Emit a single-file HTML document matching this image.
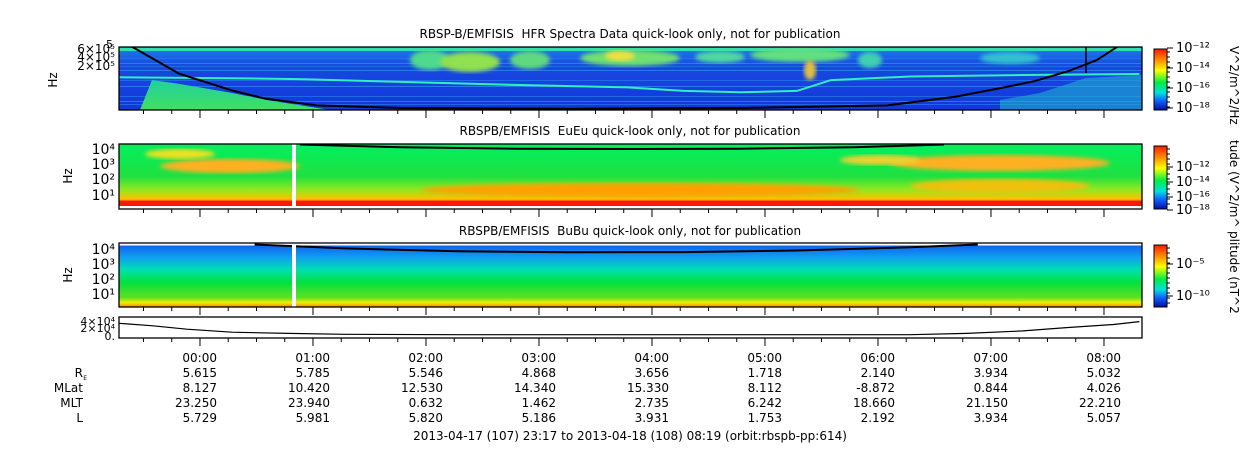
<!DOCTYPE html>
<html><head><meta charset="utf-8">
<style>
html,body{margin:0;padding:0;background:#fff;}
svg{display:block;font-family:"DejaVu Sans","Liberation Sans",sans-serif;}
text{fill:#000;font-size:12px;white-space:pre;}
</style></head>
<body>
<svg id="chart" width="1250" height="449" viewBox="0 0 1250 449" xmlns="http://www.w3.org/2000/svg">
<defs>
<linearGradient id="cbar" x1="0" y1="0" x2="0" y2="1">
<stop offset="0" stop-color="#ff1a00"/><stop offset="0.2" stop-color="#ff9900"/><stop offset="0.35" stop-color="#ffff00"/>
<stop offset="0.55" stop-color="#00ee44"/><stop offset="0.72" stop-color="#00e0e0"/><stop offset="0.85" stop-color="#1060ff"/><stop offset="1" stop-color="#0010a0"/>
</linearGradient>
<linearGradient id="p1bg" x1="0" y1="0" x2="0" y2="1">
<stop offset="0" stop-color="#20c0e0"/><stop offset="0.08" stop-color="#1a70e8"/><stop offset="0.3" stop-color="#1848e0"/><stop offset="1" stop-color="#1238d8"/>
</linearGradient>
<linearGradient id="p2bg" x1="0" y1="0" x2="0" y2="1">
<stop offset="0" stop-color="#00f060"/><stop offset="0.5" stop-color="#20e040"/><stop offset="0.7" stop-color="#90e820"/><stop offset="0.85" stop-color="#ffc000"/><stop offset="0.88" stop-color="#ff3000"/><stop offset="1" stop-color="#ff1000"/>
</linearGradient>
<linearGradient id="p3bg" x1="0" y1="0" x2="0" y2="1">
<stop offset="0" stop-color="#1060f0"/><stop offset="0.2" stop-color="#10a0f0"/><stop offset="0.4" stop-color="#00e0b0"/><stop offset="0.6" stop-color="#00e040"/><stop offset="0.85" stop-color="#60e020"/><stop offset="0.93" stop-color="#f0f000"/><stop offset="1" stop-color="#ff8000"/>
</linearGradient>
<linearGradient id="tri" x1="0" y1="0" x2="0" y2="1">
<stop offset="0" stop-color="#20d0a0"/><stop offset="1" stop-color="#40e060"/>
</linearGradient>
<filter id="blur"><feGaussianBlur stdDeviation="2"/></filter>
</defs>
<g id="panels"></g>
</svg>
<script>
const NS='http://www.w3.org/2000/svg';
const svg=document.getElementById('chart');
const root=document.getElementById('panels');
// ---- data ----
const hourTicks=['00:00','01:00','02:00','03:00','04:00','05:00','06:00','07:00','08:00'];
const rowRE=['5.615','5.785','5.546','4.868','3.656','1.718','2.140','3.934','5.032'];
const rowMLat=['8.127','10.420','12.530','14.340','15.330','8.112','-8.872','0.844','4.026'];
const rowMLT=['23.250','23.940','0.632','1.462','2.735','6.242','18.660','21.150','22.210'];
const rowL=['5.729','5.981','5.820','5.186','3.931','1.753','2.192','3.934','5.057'];
// hours since 23:17
const fceT=[0.1,0.53,1.0,1.3,1.75,2.5,4.0,5.5,6.8,7.4,7.8,8.1,8.4,8.65,8.85];
const fceHz=[770000,110000,34000,19000,12000,10000,9500,10000,12000,22000,40000,65000,130000,280000,770000];
const p2T=[1.6,2.5,3.5,4.5,5.5,6.5,7.3];
const p2Hz=[20000,13000,10500,10000,10500,13000,20000];
const p3T=[1.2,2.0,3.0,4.0,5.0,6.0,7.0,7.6];
const p3Hz=[20000,11000,7000,6000,6200,8000,13000,20000];
const p4T=[0,0.3,0.6,1.0,1.5,2.0,3.0,4.0,5.0,6.0,7.0,7.5,8.0,8.4,8.8,9.03];
const p4V=[30000,24000,16000,9000,6000,4000,3000,3000,3000,3000,3000,6000,12000,20000,27000,34000];
const cyanT=[0,1.0,1.6,2.5,3.5,4.5,5.0,5.5,6.0,6.3,7.0,8.0,9.03];
const cyanHz=[85000,80000,75000,62000,50000,42000,33000,30000,33000,70000,90000,100000,107000];
// ---- scales ----
const X0=119,X1=1142,HPX=113;
const xT=t=>X0+t*HPX;
const y1=f=>75-(Math.log10(f)-5)*33;
const y2=f=>149-(Math.log10(f)-4)*15;
const y3=f=>249-(Math.log10(f)-4)*15;
const y4=v=>336-v/40000*17;
function el(tag,attrs,parent){const e=document.createElementNS(NS,tag);for(const k in attrs)e.setAttribute(k,attrs[k]);(parent||root).appendChild(e);return e;}
function txt(x,y,s,anchor,size,parent){const e=el('text',{x:x,y:y,'text-anchor':anchor||'start'},parent);if(size)e.style.fontSize=size+'px';e.textContent=s;return e;}
function pathFrom(T,V,ys){return T.map((t,i)=>(i?'L':'M')+xT(t).toFixed(1)+','+ys(V[i]).toFixed(1)).join(' ');}

// panel 1
const g1=el('g',{});
el('rect',{x:X0,y:47,width:X1-X0,height:63,fill:'url(#p1bg)'},g1);
[58,63,66,70,80,86,96,101,104].forEach((y,i)=>el('rect',{x:X0,y:y,width:X1-X0,height:1,fill:i%2?'#3090f0':'#2a78ea',opacity:0.7},g1));
el('rect',{x:X0,y:48,width:X1-X0,height:3,fill:'#30e0b0'},g1);
const blobs=[[430,60,20,10,'#50d890'],[470,62,30,10,'#90e050'],[530,60,20,9,'#60d880'],[630,58,50,8,'#70e070'],[620,56,15,5,'#f0e040'],[720,57,25,6,'#50d8a0'],[800,55,50,7,'#60e080'],[810,70,6,10,'#e0c040'],[870,60,12,8,'#40d0b0'],[1010,58,30,6,'#30c0d0']];
blobs.forEach(b=>el('ellipse',{cx:b[0],cy:b[1],rx:b[2],ry:b[3],fill:b[4],filter:'url(#blur)'},g1));
el('polygon',{points:'140,110 152,80 180,84 232,93 267,100 330,110',fill:'url(#tri)'},g1);
el('polygon',{points:'1000,110 1000,100 1040,93 1086,78 1142,75 1142,110',fill:'#20b0d0',opacity:0.6},g1);
const cy=el('path',{d:pathFrom(cyanT,cyanHz,y1),stroke:'#30f0c0','stroke-width':2,fill:'none'},g1);

const fl=el('path',{d:pathFrom(fceT,fceHz,y1),stroke:'#000','stroke-width':2,fill:'none'},g1);

el('line',{x1:1086,y1:47,x2:1086,y2:73,stroke:'#000','stroke-width':1.5},g1);
el('rect',{x:X0-1,y:0,width:X1-X0+2,height:46.5,fill:'#fff'},g1);
el('rect',{x:X0-1,y:110.5,width:X1-X0+2,height:3,fill:'#fff'},g1);

// panel 2
const g2=el('g',{});
el('rect',{x:X0,y:144,width:X1-X0,height:65,fill:'url(#p2bg)'},g2);
[[230,166,70,7,'#ffb020'],[180,154,35,5,'#f0e020'],[1000,163,110,8,'#ffb020'],[880,160,40,5,'#f0d030'],[640,190,220,7,'#ffa000'],[1000,186,90,7,'#f0c010']].forEach(b=>el('ellipse',{cx:b[0],cy:b[1],rx:b[2],ry:b[3],fill:b[4],filter:'url(#blur)'},g2));
el('rect',{x:X0,y:201,width:X1-X0,height:5,fill:'#ff1800'},g2);
el('rect',{x:X0,y:206,width:X1-X0,height:3,fill:'#fff'},g2);
el('path',{d:pathFrom(p2T,p2Hz,y2),stroke:'#000','stroke-width':2,fill:'none'},g2);
el('rect',{x:292,y:144,width:4,height:65,fill:'#fff'},g2);

// panel 3
const g3=el('g',{});
el('rect',{x:X0,y:245,width:X1-X0,height:62,fill:'url(#p3bg)'},g3);
el('rect',{x:X0,y:243,width:X1-X0,height:2.5,fill:'#fff'},g3);
el('path',{d:pathFrom(p3T,p3Hz,y3),stroke:'#000','stroke-width':2,fill:'none'},g3);
el('rect',{x:292,y:243,width:4,height:64,fill:'#fff'},g3);

// panel 4
const g4=el('g',{});
el('path',{d:pathFrom(p4T,p4V,y4),stroke:'#000','stroke-width':1.2,fill:'none'},g4);

// frames and ticks
[[47,110],[144,209],[243,307],[317,338]].forEach(([a,b],i)=>{
  const r=el('rect',{x:X0,y:a,width:X1-X0,height:b-a,fill:'none',stroke:'#000','stroke-width':1.3});
  
  for(let m=1;m<=36;m++){const t=(m*15-17)/60;const x=xT(t);if(x<X0||x>X1)continue;
    const len=((m*15)%60===0)?8:4;
    el('line',{x1:x,y1:b,x2:x,y2:b+len,stroke:'#000','stroke-width':1});}
});
// y labels
txt(106,48,'5','start',11);
[[53,'6×10⁵'],[61,'4×10⁵'],[70,'2×10⁵']].forEach(a=>txt(115,a[0],a[1],'end',12));
txt(57,80,'Hz','middle',12).setAttribute('transform','rotate(-90 57 80)');
[[154,'10⁴'],[169,'10³'],[184,'10²'],[200,'10¹']].forEach(a=>txt(115,a[0],a[1],'end',14));
txt(72,176,'Hz','middle',12).setAttribute('transform','rotate(-90 72 176)');
[[254,'10⁴'],[269,'10³'],[284,'10²'],[299,'10¹']].forEach(a=>txt(115,a[0],a[1],'end',14));
txt(72,275,'Hz','middle',12).setAttribute('transform','rotate(-90 72 275)');
txt(115,325,'4×10⁴','end',11);txt(115,332,'2×10⁴','end',11);txt(115,340,'0.','end',11);

// titles
[[38,'RBSP-B/EMFISIS  HFR Spectra Data quick-look only, not for publication'],[135,'RBSPB/EMFISIS  EuEu quick-look only, not for publication'],[235,'RBSPB/EMFISIS  BuBu quick-look only, not for publication']].forEach((a,i)=>{const t=txt(630,a[0],a[1],'middle',12);});

// colorbars
[[49,110,[[52,'10⁻¹²'],[72,'10⁻¹⁴'],[92,'10⁻¹⁶'],[112,'10⁻¹⁸']],'V^2/m^2/Hz',46],[146,209,[[171,'10⁻¹²'],[186,'10⁻¹⁴'],[201,'10⁻¹⁶'],[214,'10⁻¹⁸']],'tude (V^2/m^',140],[245,307,[[268,'10⁻⁵'],[300,'10⁻¹⁰']],'plitude (nT^2',231]].forEach((c,i)=>{
  const r=el('rect',{x:1154,y:c[0],width:13,height:c[1]-c[0],fill:'url(#cbar)',stroke:'#000','stroke-width':1});
  
  for(let y=c[0]+3;y<c[1];y+=5)el('line',{x1:1167,y1:y,x2:1170,y2:y,stroke:'#000'});
  c[2].forEach(l=>{el('line',{x1:1167,y1:l[0]-4,x2:1173,y2:l[0]-4,stroke:'#000'});txt(1176,l[0],l[1],'start',13);});
  const t=txt(1230,c[4],c[3],'start',12);t.setAttribute('transform','rotate(90 1230 '+c[4]+')');
});

// bottom table
const rows=[rowRE,rowMLat,rowMLT,rowL];
hourTicks.forEach((h,i)=>{const x=xT((60*i+43)/60);txt(x+17,362,h,'end',12);
  rows.forEach((r,j)=>txt(x+17,377+j*15,r[i],'end',12));});
txt(83,377,'R','end',12);txt(87,380,'E','end',6);
txt(83,392,'MLat','end',12);txt(83,407,'MLT','end',12);txt(83,422,'L','end',12);
const ft=txt(630,440,'2013-04-17 (107) 23:17 to 2013-04-18 (108) 08:19 (orbit:rbspb-pp:614)','middle',12);

</script>
</body></html>
